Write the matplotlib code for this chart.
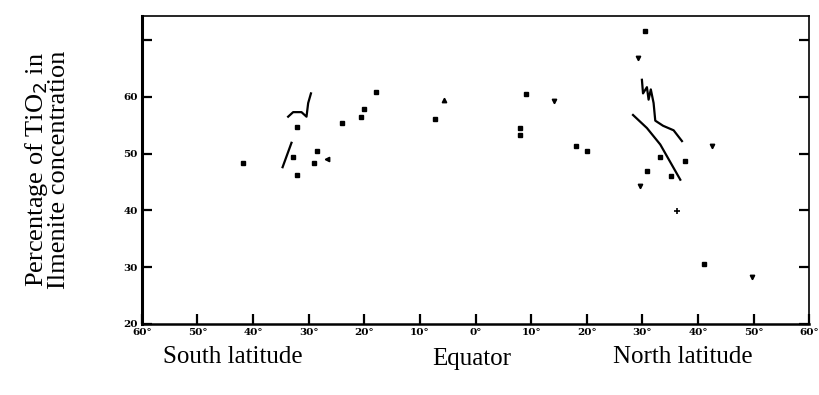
import matplotlib
matplotlib.use("Agg")
import matplotlib.pyplot as plt

# Data (latitude: negative = south, positive = north; value = % TiO2)
sq_lat = [-41.8, -32.1, -32.1, -32.8, -28.6, -29.0, -24.1, -20.6, -20.1, -17.9,
          -7.3, 9.0, 8.0, 8.0, 18.0, 20.1, 30.4, 33.2, 37.6, 30.8, 35.1, 41.0]
sq_val = [48.4, 54.7, 46.3, 49.4, 50.4, 48.4, 55.4, 56.4, 57.8, 60.9,
          56.1, 60.5, 54.5, 53.2, 51.4, 50.4, 71.6, 49.4, 48.7, 47.0, 46.0, 30.5]

tri_dn_lat = [14.1, 29.2, 29.6, 42.5, 49.7]
tri_dn_val = [59.2, 66.9, 44.3, 51.4, 28.2]
tri_up_lat = [-5.7]
tri_up_val = [59.5]
tri_lt_lat = [-26.8]
tri_lt_val = [49.1]
plus_lat = [36.2]
plus_val = [39.8]

south_a_lat = [-33.7, -32.8, -31.3, -30.4, -30.1, -29.6]
south_a_val = [56.5, 57.3, 57.3, 56.5, 58.9, 60.6]
south_b_lat = [-34.7, -33.1]
south_b_val = [47.6, 51.9]

north_a_lat = [29.9, 30.1, 30.8, 31.1, 31.5, 32.0, 32.3, 33.7, 35.6, 37.1]
north_a_val = [63.0, 60.6, 61.7, 59.5, 61.3, 58.9, 55.8, 54.9, 54.1, 52.2]
north_b_lat = [28.3, 30.8, 33.2, 36.8]
north_b_val = [56.8, 54.5, 51.6, 45.4]

x_ticks = [-60, -50, -40, -30, -20, -10, 0, 10, 20, 30, 40, 50, 60]
x_labels = ["60°", "50°", "40°", "30°", "20°", "10°", "0°",
            "10°", "20°", "30°", "40°", "50°", "60°"]
y_ticks = [20, 30, 40, 50, 60, 70]
y_labels = ["20", "30", "40", "50", "60", ""]

fig = plt.figure(figsize=(8.2, 3.95), dpi=100)
ax = fig.add_axes([0.173, 0.180, 0.814, 0.779])

ax.plot(sq_lat, sq_val, ls="none", marker="s", ms=2.6, color="black")
ax.plot(tri_dn_lat, tri_dn_val, ls="none", marker="v", ms=3.2, color="black")
ax.plot(tri_up_lat, tri_up_val, ls="none", marker="^", ms=3.2, color="black")
ax.plot(tri_lt_lat, tri_lt_val, ls="none", marker="<", ms=3.2, color="black")
ax.plot(plus_lat, plus_val, ls="none", marker="+", ms=4, mew=1.2, color="black")

for la, va in [(south_a_lat, south_a_val), (south_b_lat, south_b_val),
               (north_a_lat, north_a_val), (north_b_lat, north_b_val)]:
    ax.plot(la, va, color="black", lw=1.6)

ax.set_xlim(-60, 60)
ax.set_ylim(20.3, 74.2)
ax.set_xticks(x_ticks)
ax.set_xticklabels(x_labels, fontsize=7.5, fontweight="bold", family="DejaVu Serif")
ax.set_yticks(y_ticks)
ax.set_yticklabels(y_labels, fontsize=7.5, fontweight="bold", family="DejaVu Serif")
ax.tick_params(axis="both", direction="in", length=7, width=1.6, pad=3,
               right=True, top=False)
for s in ax.spines.values():
    s.set_linewidth(1.2)
ax.spines["left"].set_linewidth(2.2)
ax.spines["bottom"].set_linewidth(1.8)

serif = "Liberation Serif"
fig.text(0.057, 0.57, "Percentage of TiO$_2$ in\nIlmenite concentration",
         rotation=90, ha="center", va="center", fontsize=19, family=serif,
         linespacing=0.9)
fig.text(233 / 820, 1 - 357 / 395, "South latitude", ha="center", va="center",
         fontsize=18, family=serif)
fig.text(472 / 820, 1 - 359 / 395, "Equator", ha="center", va="center",
         fontsize=18, family=serif)
fig.text(683 / 820, 1 - 357 / 395, "North latitude", ha="center", va="center",
         fontsize=18, family=serif)

fig.savefig("out.png", dpi=100)
